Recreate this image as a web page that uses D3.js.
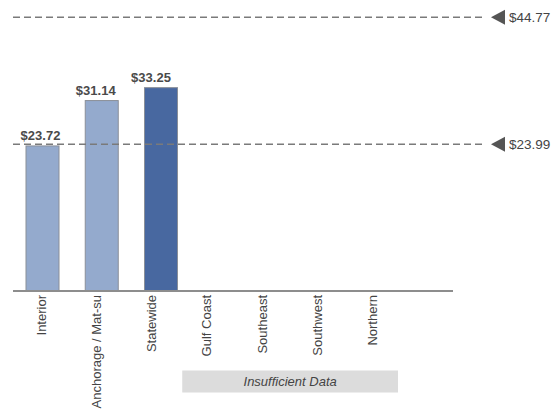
<!DOCTYPE html>
<html>
<head>
<meta charset="utf-8">
<script src="https://cdn.jsdelivr.net/npm/d3@7"></script>
<style>
  html, body { margin: 0; padding: 0; background: #fff; }
  svg { display: block; font-family: "Liberation Sans", Arial, sans-serif; }
</style>
</head>
<body>
<svg id="chart" width="560" height="410"></svg>
<script>
// Regions shown along the axis, with the hourly wage for those that have data
const regions = ["Interior", "Anchorage / Mat-su", "Statewide", "Gulf Coast", "Southeast", "Southwest", "Northern"];
const wages = [23.72, 31.14, 33.25, null, null, null, null];
const highlighted = ["Statewide"];
// Reference levels marked with dashed lines and arrow markers
const refValues = [44.77, 23.99];
const noDataRegions = ["Gulf Coast", "Southeast", "Southwest", "Northern"];
const noDataText = "Insufficient Data";

const svg = d3.select("#chart");
const fmt = v => "$" + d3.format(".2f")(v);

const baseY = 291;
const y = d3.scaleLinear().domain([0, 45]).range([baseY, 15.8]);

// Bars sit on a band scale; labels use a slightly tighter point scale
const xBar = d3.scaleBand().domain(regions).range([26, 414.5]).paddingInner(0.443).paddingOuter(0);
const xLab = d3.scalePoint().domain(regions).range([40.5, 372]);

const data = regions.map((r, i) => ({ region: r, value: wages[i] })).filter(d => d.value != null);

// Bars
svg.append("g").selectAll("rect").data(data).join("rect")
  .attr("x", d => xBar(d.region))
  .attr("y", d => y(d.value))
  .attr("width", xBar.bandwidth())
  .attr("height", d => baseY - y(d.value))
  .attr("fill", d => highlighted.includes(d.region) ? "#4868a0" : "#94aacd")
  .attr("stroke", "#8a8f98")
  .attr("stroke-width", 1);

// Reference dashed lines
const refG = svg.append("g");
refG.selectAll("line").data(refValues).join("line")
  .attr("x1", 13).attr("x2", 486)
  .attr("y1", d => y(d)).attr("y2", d => y(d))
  .attr("stroke", "#7a7a7a")
  .attr("stroke-width", 1.5)
  .attr("stroke-dasharray", "7,4");
refG.selectAll("path").data(refValues).join("path")
  .attr("d", d => `M491,${y(d)} L505,${y(d) - 7.5} L505,${y(d) + 7.5} Z`)
  .attr("fill", "#555");
refG.selectAll("text").data(refValues).join("text")
  .attr("x", 509).attr("y", d => y(d)).attr("dy", "0.35em")
  .attr("font-size", 13.5).attr("fill", "#444")
  .text(fmt);

// Baseline
svg.append("line")
  .attr("x1", 13).attr("x2", 453)
  .attr("y1", baseY).attr("y2", baseY)
  .attr("stroke", "#8d8d8d").attr("stroke-width", 2);

// Value labels above bars
svg.append("g").selectAll("text").data(data).join("text")
  .attr("x", d => xLab(d.region))
  .attr("y", d => y(d.value) - 5.5)
  .attr("text-anchor", "middle")
  .attr("font-size", 13).attr("font-weight", "bold").attr("fill", "#4a4a4a")
  .text(d => fmt(d.value));

// Category axis with rotated labels
const axis = svg.append("g")
  .attr("transform", `translate(0,${baseY})`)
  .call(d3.axisBottom(xLab).tickSize(0).tickPadding(0));
axis.select(".domain").remove();
axis.selectAll("text")
  .attr("transform", "rotate(-90)")
  .attr("x", -4).attr("y", 0).attr("dy", "0.35em")
  .attr("text-anchor", "end")
  .attr("font-size", 13)
  .attr("font-family", "Liberation Sans, Arial, sans-serif")
  .attr("fill", "#444");

// Band marking regions without enough data
const nd0 = xLab(noDataRegions[0]) - 24;
const nd1 = xLab(noDataRegions[noDataRegions.length - 1]) + 26;
svg.append("rect")
  .attr("x", nd0).attr("y", 370.5)
  .attr("width", nd1 - nd0).attr("height", 22)
  .attr("fill", "#dcdcdc");
svg.append("text")
  .attr("x", (nd0 + nd1) / 2).attr("y", 381.5).attr("dy", "0.35em")
  .attr("text-anchor", "middle")
  .attr("font-size", 13).attr("font-style", "italic").attr("fill", "#444")
  .text(noDataText);
</script>
</body>
</html>
